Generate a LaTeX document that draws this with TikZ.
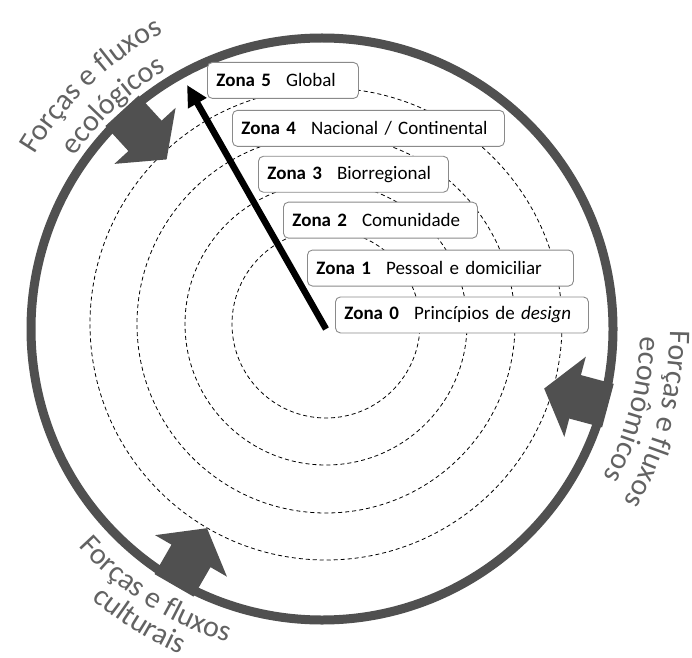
\documentclass[tikz,border=0pt]{standalone}
\usepackage{fontspec}
\setmainfont{Carlito}
\usepackage{xcolor}
\usepackage{tikz}
\usetikzlibrary{positioning, arrows.meta, decorations.text}

\definecolor{ringgray}{HTML}{505050}
\definecolor{forcegray}{HTML}{626262}
\definecolor{boxgray}{HTML}{8A8A8A}

\newcommand{\zona}[2]{\mbox{\textbf{Zona #1}\hspace{15pt}#2}}
\newcommand{\forcefont}{\fontsize{30}{30}\selectfont\color{forcegray}}

\begin{document}
\begin{tikzpicture}[
    x=1pt, y=1pt,
    zonebox/.style={rectangle, draw=boxgray, line width=0.9pt, rounded corners=5pt, fill=white,
        minimum height=36pt, inner xsep=9pt, inner ysep=0pt, align=left,
        font=\fontsize{19}{21}\selectfont},
    ringline/.style={draw=black, line width=0.8pt, dash pattern=on 4pt off 3pt},
    outerring/.style={draw=ringgray, line width=9pt},
    forcearrow/.style={fill=ringgray},
    zonearrow/.style={draw=black, line width=6.5pt, -{Triangle[length=21pt, width=20pt]}},
    forcetext/.style={decorate, decoration={text along path, text align=center, text={#1}}},
]
\useasboundingbox (0,0) rectangle (692,657);

% centres of the rings
\coordinate (hub) at (322,328);
\coordinate (ringc) at (326,333);

% zones as dashed rings
\foreach \r in {94,141,189,236}
    \draw[ringline] (ringc) circle[radius=\r];

% outside forces pushing in
\foreach \a in {132.5,-15,240}
    \fill[forcearrow, shift={(hub)}, rotate=\a]
        (296,22.5) -- (262,22.5) -- (262,41.5) -- (230,0) -- (262,-41.5) -- (262,-22.5) -- (296,-22.5) -- cycle;
\draw[outerring] (hub) circle[radius=291];

% labels of the forces, along the ring
\path[forcetext={|\forcefont|Forças e fluxos}] (hub) ++(173.5:336) arc[start angle=173.5, end angle=93.5, radius=336];
\path[forcetext={|\forcefont|ecológicos}] (hub) ++(173:302) arc[start angle=173, end angle=93, radius=302];
\path[forcetext={|\forcefont|Forças e fluxos}] (hub) ++(25:348) arc[start angle=25, end angle=-55, radius=348];
\path[forcetext={|\forcefont|econômicos}] (hub) ++(25.5:318) arc[start angle=25.5, end angle=-54.5, radius=318];
\path[forcetext={|\forcefont|Forças e fluxos}] (hub) ++(197.5:327) arc[start angle=197.5, end angle=277.5, radius=327];
\path[forcetext={|\forcefont|culturais}] (hub) ++(198:355) arc[start angle=198, end angle=278, radius=355];

% zone boxes
\node[zonebox, anchor=north west, text width=133pt] (z5) at (207,595) {\zona{5}{Global}};
\node[zonebox, text width=254pt] (z4) [below right=11pt and 25pt of z5.south west] {\zona{4}{Nacional / Continental}};
\node[zonebox, text width=172pt] (z3) [below right=9pt and 26pt of z4.south west] {\zona{3}{Biorregional}};
\node[zonebox, text width=176pt] (z2) [below right=9pt and 25pt of z3.south west] {\zona{2}{Comunidade}};
\node[zonebox, text width=248pt] (z1) [below right=11pt and 24pt of z2.south west] {\zona{1}{Pessoal e domiciliar}};
\node[zonebox, text width=235pt] (z0) [below right=10pt and 28pt of z1.south west] {\zona{0}{Princípios de \textit{design}}};

% from the centre out to the global zone
\coordinate (core) at (326,328);
\coordinate (edge) at (187,572);
\draw[zonearrow] (core) -- (edge);
\end{tikzpicture}
\end{document}
